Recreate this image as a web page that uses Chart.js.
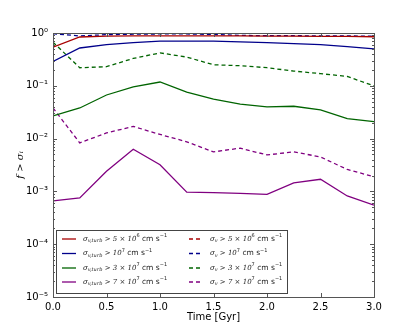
<!DOCTYPE html>
<html>
<head>
<meta charset="utf-8">
<script src="https://cdn.jsdelivr.net/npm/chart.js@4"></script>
<style>
  html, body { margin: 0; padding: 0; background: #fff; }
  canvas { display: block; }
</style>
</head>
<body>
<canvas id="myChart" width="415" height="332"></canvas>
<script>
/* time axis (Gyr) */
const times = [0, 0.25, 0.5, 0.75, 1.0, 1.25, 1.5, 1.75, 2.0, 2.25, 2.5, 2.75, 3.0];

/* fraction above sigma_v,turb threshold (solid lines) */
const turb5e6 = [0.54, 0.84, 0.87, 0.88, 0.88, 0.88, 0.88, 0.88, 0.87, 0.87, 0.86, 0.86, 0.85];
const turb1e7 = [0.29, 0.52, 0.60, 0.66, 0.70, 0.70, 0.70, 0.68, 0.66, 0.63, 0.60, 0.55, 0.50];
const turb3e7 = [0.027, 0.038, 0.067, 0.095, 0.118, 0.076, 0.056, 0.045, 0.040, 0.041, 0.035, 0.024, 0.021];
const turb7e7 = [0.00066, 0.00075, 0.0024, 0.0063, 0.0032, 0.00097, 0.00095, 0.00092, 0.00088, 0.00145, 0.0017, 0.00082, 0.00055];

/* fraction above sigma_v threshold (dashed lines) */
const tot5e6 = [0.98, 0.98, 0.98, 0.98, 0.98, 0.98, 0.98, 0.98, 0.98, 0.98, 0.98, 0.98, 0.98];
const tot1e7 = [0.97, 0.88, 0.93, 0.95, 0.96, 0.96, 0.94, 0.90, 0.89, 0.89, 0.88, 0.88, 0.87];
const tot3e7 = [0.67, 0.22, 0.23, 0.33, 0.42, 0.35, 0.25, 0.24, 0.22, 0.19, 0.17, 0.15, 0.10];
const tot7e7 = [0.038, 0.0083, 0.0128, 0.017, 0.012, 0.0087, 0.0056, 0.0066, 0.0049, 0.0056, 0.0045, 0.0026, 0.0019];

/* tick labels */
const xTicks = [0, 0.5, 1.0, 1.5, 2.0, 2.5, 3.0];
const yExps = [0, -1, -2, -3, -4, -5];

/* legend text pieces: threshold mantissa and exponent */
const thrMant = ['5 × 10', '10', '3 × 10', '7 × 10'];
const thrExp = ['6', '7', '7', '7'];

const colors = ['#a80000', '#00008b', '#006400', '#800080'];

const supMap = { '0': '⁰', '1': '¹', '2': '²', '3': '³', '4': '⁴', '5': '⁵', '-': '⁻' };
const toSup = (s) => String(s).split('').map((c) => supMap[c]).join('');

const series = [turb5e6, turb1e7, turb3e7, turb7e7, tot5e6, tot1e7, tot3e7, tot7e7];

const datasets = series.map((arr, i) => ({
  label: (i < 4 ? 'turb ' : 'all ') + i,
  data: arr.map((v, j) => ({ x: times[j], y: v })),
  borderColor: colors[i % 4],
  backgroundColor: colors[i % 4],
  borderWidth: 1.3,
  borderDash: i < 4 ? [] : [4, 3],
  pointRadius: 0,
  tension: 0,
  fill: false,
}));

/* draw text made of pieces: [text, 'n' | 'i' | 'sub' | 'sup'] */
function drawRich(ctx, x, y, parts) {
  ctx.textBaseline = 'middle';
  ctx.textAlign = 'left';
  parts.forEach(([t, k]) => {
    let dy = 0;
    if (k === 'sub') { ctx.font = 'italic 5px "DejaVu Serif"'; dy = 2; }
    else if (k === 'sup') { ctx.font = '5px "DejaVu Sans"'; dy = -3; }
    else if (k === 'i') { ctx.font = 'italic 7px "DejaVu Serif"'; }
    else { ctx.font = '7.5px "DejaVu Sans"'; }
    ctx.fillText(t, x, y + dy);
    x += ctx.measureText(t).width;
  });
}

const framePlugin = {
  id: 'frame',
  afterDatasetsDraw(chart) {
    const { ctx, chartArea: a, scales } = chart;
    ctx.save();
    ctx.strokeStyle = '#555';
    ctx.lineWidth = 1;
    /* inward ticks */
    ctx.beginPath();
    xTicks.forEach((v) => {
      const px = Math.round(scales.x.getPixelForValue(v)) + 0.5;
      ctx.moveTo(px, a.bottom); ctx.lineTo(px, a.bottom - 4);
      ctx.moveTo(px, a.top); ctx.lineTo(px, a.top + 4);
    });
    yExps.forEach((e) => {
      for (let m = 1; m <= 9; m++) {
        const v = m * Math.pow(10, e);
        if (e === 0 && m > 1) continue;
        const py = Math.round(scales.y.getPixelForValue(v)) + 0.5;
        const len = m === 1 ? 4 : 2;
        ctx.moveTo(a.left, py); ctx.lineTo(a.left + len, py);
        ctx.moveTo(a.right, py); ctx.lineTo(a.right - len, py);
      }
    });
    ctx.stroke();
    ctx.strokeRect(Math.round(a.left) + 0.5, Math.round(a.top) + 0.5,
      Math.round(a.right - a.left), Math.round(a.bottom - a.top));

    /* legend box */
    const lx = 56, ly = 230, lw = 231, lh = 63;
    ctx.fillStyle = '#fff';
    ctx.fillRect(lx, ly, lw, lh);
    ctx.strokeStyle = '#444';
    ctx.strokeRect(lx + 0.5, ly + 0.5, lw, lh);
    const rows = [239, 253.5, 268, 282];
    rows.forEach((ry, i) => {
      ctx.lineWidth = 1.3;
      ctx.strokeStyle = colors[i];
      ctx.setLineDash([]);
      ctx.beginPath(); ctx.moveTo(62, ry); ctx.lineTo(76, ry); ctx.stroke();
      ctx.setLineDash([4, 3]);
      ctx.beginPath(); ctx.moveTo(189, ry); ctx.lineTo(201, ry); ctx.stroke();
      ctx.setLineDash([]);
      ctx.fillStyle = '#222';
      drawRich(ctx, 83, ry, [['σ', 'i'], ['v,turb', 'sub'], [' > ' + thrMant[i], 'i'], [thrExp[i], 'sup'], [' cm s', 'n'], ['−1', 'sup']]);
      drawRich(ctx, 210, ry, [['σ', 'i'], ['v', 'sub'], [' > ' + thrMant[i], 'i'], [thrExp[i], 'sup'], [' cm s', 'n'], ['−1', 'sup']]);
    });
    ctx.restore();
  },
};

const config = {
  type: 'line',
  data: { datasets },
  options: {
    responsive: false,
    animation: false,
    layout: { padding: { left: 0, right: 41, top: 33, bottom: 0 } },
    plugins: { legend: { display: false }, tooltip: { enabled: false } },
    scales: {
      x: {
        type: 'linear',
        min: 0,
        max: 3,
        afterBuildTicks: (s) => { s.ticks = xTicks.map((v) => ({ value: v })); },
        afterFit: (s) => { s.height = 35; },
        grid: { display: false, drawTicks: false },
        border: { display: false },
        ticks: {
          color: '#000',
          padding: 4,
          maxRotation: 0,
          font: { family: 'DejaVu Sans', size: 10 },
          callback: (v) => Number(v).toFixed(1),
        },
        title: {
          display: true,
          text: 'Time [Gyr]',
          color: '#000',
          font: { family: 'DejaVu Sans', size: 10 },
          padding: { top: 0, bottom: 9 },
        },
      },
      y: {
        type: 'logarithmic',
        min: 1e-5,
        max: 1,
        afterBuildTicks: (s) => { s.ticks = yExps.map((e) => ({ value: Math.pow(10, e) })); },
        afterFit: (s) => { s.width = 53; },
        grid: { display: false, drawTicks: false },
        border: { display: false },
        ticks: {
          color: '#000',
          padding: 5,
          font: { family: 'DejaVu Sans', size: 10 },
          callback: (v) => '10' + toSup(Math.round(Math.log10(v))),
        },
        title: {
          display: true,
          text: 'f > σᵢ',
          color: '#000',
          font: { family: 'DejaVu Serif', size: 10, style: 'italic' },
          padding: { top: 14, bottom: 0 },
        },
      },
    },
  },
  plugins: [framePlugin],
};

new Chart(document.querySelector('#myChart'), config);
</script>
</body>
</html>
